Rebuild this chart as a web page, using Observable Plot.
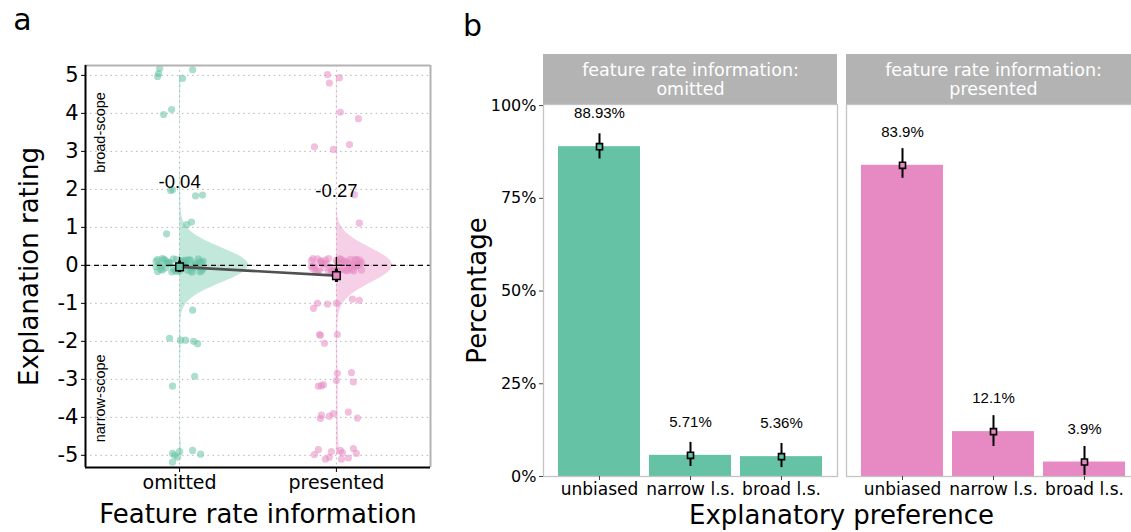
<!DOCTYPE html>
<html><head><meta charset="utf-8">
<script src="https://cdn.jsdelivr.net/npm/d3@7"></script>
<script src="https://cdn.jsdelivr.net/npm/@observablehq/plot@0.6"></script>
<style>
html,body{margin:0;padding:0;background:#fff;overflow:hidden;width:1131px;height:532px;}
#root{position:relative;width:1131px;height:532px;overflow:hidden;}
#root svg{position:absolute;top:0;}
</style></head><body><div id="root"></div>
<script>
// ---------- panel a data ----------
const groups = ["omitted", "presented"];
const groupColors = ["#66c2a5", "#e78ac3"];
const ratingTicks = [-5, -4, -3, -2, -1, 0, 1, 2, 3, 4, 5];
const ratingValues = [-5, -4, -3, -2, -1, 0, 1, 2, 3, 4, 5];
const omittedCounts = [7, 0, 2, 5, 1, 251, 3, 4, 0, 2, 5];
const presentedCounts = [11, 6, 7, 4, 6, 237, 1, 1, 3, 2, 3];

const omittedPointY = [4.97,5.18,5.05,4.92,5.15,3.97,4.10,1.97,1.99,1.83,1.85,0.83,1.07,1.14,-1.18,-1.92,-1.97,-1.97,-2.00,-2.06,-2.92,-3.18,-4.95,-5.05,-4.90,-4.87,-4.97,-5.18,-5.00];
const omittedPointDx = [-0.14,-0.127,-0.134,0.019,0.083,-0.102,-0.051,-0.057,-0.045,0.102,0.146,-0.083,0.045,0.076,0.083,-0.064,0.006,0.038,0.089,0.115,0.096,-0.045,-0.045,-0.013,0.0,0.083,0.134,-0.045,-0.032];
const omittedZeroDx = [-0.14,-0.11,-0.07,-0.02,0.03,0.08,0.12,0.15,-0.13,-0.09,-0.05,0.01,0.05,0.10,0.14,-0.15,-0.10,-0.04,0.02,0.07,0.11,0.13,-0.12,-0.08,-0.03,0.04,0.09,0.15,-0.14,-0.06,-0.01,0.06,0.12,-0.11,-0.07,0.00,0.03,0.08,0.14,-0.15,-0.09,-0.04,0.05,0.10,0.13,-0.12,-0.02,0.07];
const omittedZeroY = [0.15,-0.12,0.08,-0.16,0.04,-0.05,0.17,-0.09,0.02,0.13,-0.17,0.10,-0.02,0.06,-0.14,-0.04,0.16,-0.08,0.12,-0.15,0.01,0.09,-0.10,0.05,-0.13,0.14,-0.06,0.11,-0.16,0.07,-0.11,0.15,-0.03,0.18,0.03,-0.15,0.12,-0.18,0.08,0.11,-0.07,0.17,-0.12,0.00,-0.17,-0.01,0.16,0.13];

const presentedPointY = [5.02,4.80,4.94,4.03,3.86,3.12,3.05,3.18,1.86,1.11,-1.00,-1.13,-1.02,-1.00,-0.89,-0.92,-1.82,-1.84,-1.82,-2.05,-2.84,-2.82,-3.03,-3.07,-3.18,-3.17,-3.14,-3.94,-4.03,-3.97,-3.90,-3.86,-4.02,-4.85,-4.98,-5.10,-5.05,-4.90,-4.87,-5.10,-4.93,-5.07,-4.82,-4.95];
const presentedPointDx = [-0.057,-0.045,0.019,0.025,0.14,-0.14,-0.019,0.083,0.115,0.146,-0.121,-0.146,-0.057,0.0,0.102,0.146,-0.108,-0.102,0.006,-0.076,0.006,0.096,0.0,0.108,-0.115,-0.096,-0.083,-0.096,-0.102,-0.045,-0.019,0.076,0.134,-0.115,-0.14,-0.07,-0.045,-0.032,0.025,0.032,0.038,0.076,0.108,0.127];
const presentedZeroDx = [-0.16,-0.12,-0.08,-0.03,0.02,0.06,0.11,0.15,-0.14,-0.10,-0.05,0.00,0.04,0.09,0.13,0.16,-0.15,-0.11,-0.06,-0.01,0.05,0.08,0.12,-0.13,-0.09,-0.04,0.03,0.07,0.14,-0.16,-0.07,-0.02,0.01,0.10,0.15,-0.12,-0.08,0.02,0.06,0.11,-0.14,-0.10,-0.03,0.04,0.09,0.13,-0.15,-0.05,0.00,0.08,0.12,0.16];
const presentedZeroY = [0.12,-0.16,0.05,-0.08,0.17,-0.13,0.02,0.14,-0.05,0.09,-0.17,0.13,-0.10,0.16,-0.02,0.07,0.18,-0.12,0.03,-0.15,0.11,-0.07,0.15,-0.18,0.06,-0.09,0.16,-0.14,0.01,-0.03,0.14,-0.16,0.08,-0.11,0.04,0.17,-0.06,-0.13,0.10,-0.15,0.00,0.12,-0.18,0.07,-0.04,0.15,-0.09,0.18,-0.14,0.05,-0.01,-0.12];

const ratingMeans = [-0.04, -0.27];
const ratingMeanLo = [-0.19, -0.45];
const ratingMeanHi = [0.11, -0.10];
const ratingMedian = [0, 0];
const ratingMedianLo = [-0.18, -0.13];
const ratingMedianHi = [0.21, 0.21];
const ratingMeanLabels = ["-0.04", "-0.27"];

// ---------- panel b data ----------
const preferences = ["unbiased", "narrow l.s.", "broad l.s."];
const omittedPct = [88.93, 5.71, 5.36];
const omittedPctLo = [85.6, 2.7, 2.4];
const omittedPctHi = [92.4, 9.2, 8.9];
const omittedPctLabels = ["88.93%", "5.71%", "5.36%"];
const presentedPct = [83.9, 12.1, 3.9];
const presentedPctLo = [80.4, 8.1, 0.3];
const presentedPctHi = [88.4, 16.4, 8.1];
const presentedPctLabels = ["83.9%", "12.1%", "3.9%"];
const pctTicks = [0, 25, 50, 75, 100];

// ---------- build tables ----------
const MAIN = '"DejaVu Sans", sans-serif';
const NUM = '"Liberation Sans", Arial, sans-serif';

const points = [];
function addPts(gi, ys, dxs) { ys.forEach((y, i) => points.push({g: groups[gi], x: gi + 1 + dxs[i], y})); }
addPts(0, omittedPointY, omittedPointDx);
addPts(0, omittedZeroY, omittedZeroDx);
addPts(1, presentedPointY, presentedPointDx);
addPts(1, presentedZeroY, presentedZeroDx);

const bw = 0.46;
function violin(counts, gi, maxHalf) {
  const grid = d3.range(-5, 5.0001, 0.05);
  const dens = grid.map(y => d3.sum(ratingValues, (r, i) => counts[i] * Math.exp(-0.5 * ((y - r) / bw) ** 2)));
  const m = d3.max(dens);
  return grid.map((y, j) => ({g: groups[gi], y, x1: gi + 1, x2: gi + 1 + dens[j] / m * maxHalf}));
}
const violins = [...violin(omittedCounts, 0, 0.44), ...violin(presentedCounts, 1, 0.357)];

const means = groups.map((g, i) => ({g, x: i + 1, mean: ratingMeans[i], lo: ratingMeanLo[i], hi: ratingMeanHi[i],
  med: ratingMedian[i], mlo: ratingMedianLo[i], mhi: ratingMedianHi[i], label: ratingMeanLabels[i]}));

const xDomA = [0.4, 2.6], yDomA = [-5.32, 5.26];
const panelA = Plot.plot({
  width: 440, height: 532, marginLeft: 85, marginRight: 10, marginTop: 65, marginBottom: 65,
  x: {domain: xDomA, label: null},
  y: {domain: yDomA, label: null},
  color: {domain: groups, range: groupColors},
  style: {fontFamily: MAIN, background: "transparent", overflow: "visible", maxWidth: "none"},
  marks: [
    Plot.gridY(ratingTicks, {stroke: "#b5b5b5", strokeOpacity: 1, strokeDasharray: "1.5,3.6"}),
    Plot.gridX([1, 2], {stroke: "#b5b5b5", strokeOpacity: 1, strokeDasharray: "1.5,3.6"}),
    Plot.areaX(violins, {x1: "x1", x2: "x2", y: "y", z: "g", fill: "g", fillOpacity: 0.4}),
    Plot.dot(points, {x: "x", y: "y", r: 3.6, fill: "g", fillOpacity: 0.55}),
    Plot.ruleY([0], {stroke: "black", strokeWidth: 1.3, strokeDasharray: "5,4"}),
    Plot.line(means, {x: "x", y: "mean", stroke: "#505050", strokeWidth: 2.6}),
    Plot.ruleX(means, {x: "x", y1: "mlo", y2: "mhi", stroke: "black", strokeWidth: 1.3}),
    Plot.ruleY(means, {y: "med", x1: d => d.x - 0.055, x2: d => d.x + 0.055, stroke: "black", strokeWidth: 1.3}),
    Plot.ruleX(means, {x: "x", y1: "lo", y2: "hi", stroke: "black", strokeWidth: 3}),
    Plot.dot(means, {x: "x", y: "mean", symbol: "square", r: 4.3, fill: "g", stroke: "black", strokeWidth: 1.4}),
    Plot.text(means, {x: "x", y: "mean", text: "label", dy: -85, fontSize: 18.5, fontFamily: NUM, fill: "black"}),
    Plot.text(["broad-scope"], {y: [3.5], text: d => d, frameAnchor: "left", textAnchor: "middle", lineAnchor: "middle", dx: 15, rotate: -90, fontSize: 14.5, fontFamily: NUM, fill: "black"}),
    Plot.text(["narrow-scope"], {y: [-3.5], text: d => d, frameAnchor: "left", textAnchor: "middle", lineAnchor: "middle", dx: 15, rotate: -90, fontSize: 14.5, fontFamily: NUM, fill: "black"}),
    Plot.ruleY([yDomA[1]], {stroke: "#b3b3b3", strokeWidth: 2}),
    Plot.ruleX([xDomA[1]], {stroke: "#b3b3b3", strokeWidth: 2}),
    Plot.ruleX([xDomA[0]], {stroke: "black", strokeWidth: 2}),
    Plot.ruleY([yDomA[0]], {stroke: "black", strokeWidth: 2}),
    Plot.axisY(ratingTicks, {tickSize: 4, tickPadding: 3, fontSize: 21, tickFormat: d => String(d), stroke: "black", fill: "black"}),
    Plot.axisX([1, 2], {tickSize: 5, tickPadding: 3, fontSize: 19, tickFormat: d => groups[d - 1], stroke: "black", fill: "black"}),
    Plot.text(["Explanation rating"], {text: d => d, frameAnchor: "left", textAnchor: "middle", lineAnchor: "middle", dx: -56, rotate: -90, fontSize: 26, fill: "black"}),
    Plot.text(["Feature rate information"], {text: d => d, frameAnchor: "bottom", textAnchor: "middle", lineAnchor: "middle", dy: 47, fontSize: 26, fill: "black"}),
    Plot.text(["a"], {text: d => d, frameAnchor: "top-left", textAnchor: "middle", lineAnchor: "middle", dx: -63, dy: -45, fontSize: 30, fill: "black"})
  ]
});
panelA.style.left = "0px";

// ---------- panel b ----------
const bars = [];
preferences.forEach((p, i) => bars.push({fx: "omitted", x: p, y: omittedPct[i], lo: omittedPctLo[i], hi: omittedPctHi[i], label: omittedPctLabels[i]}));
preferences.forEach((p, i) => bars.push({fx: "presented", x: p, y: presentedPct[i], lo: presentedPctLo[i], hi: presentedPctHi[i], label: presentedPctLabels[i]}));
const strips = groups.map(g => ({fx: g, text: "feature rate information:\n" + g}));
const yTopB = 100.3;
const yStripTop = 113.78;

const panelB = Plot.plot({
  width: 680, height: 532, marginLeft: 83, marginRight: 0, marginTop: 104, marginBottom: 56,
  fx: {domain: groups, paddingInner: 9 / 303, paddingOuter: 0, axis: null, label: null},
  x: {domain: preferences, paddingInner: 0.1, paddingOuter: 0.15, label: null},
  y: {domain: [0, yTopB], label: null},
  color: {domain: groups, range: groupColors},
  style: {fontFamily: MAIN, background: "transparent", overflow: "visible", maxWidth: "none"},
  marks: [
    Plot.rect(strips, {fx: "fx", y1: yTopB, y2: yStripTop, fill: "#b3b3b3"}),
    Plot.text(strips, {fx: "fx", text: "text", frameAnchor: "top", textAnchor: "middle", lineAnchor: "middle", dy: -25, fill: "white", fontSize: 17.5, lineHeight: 1.08}),
    Plot.barY(bars, {fx: "fx", x: "x", y: "y", fill: "fx"}),
    Plot.frame({stroke: "#c4c4c4", strokeWidth: 1.3}),
    Plot.ruleX(bars, {fx: "fx", x: "x", y1: "lo", y2: "hi", stroke: "black", strokeWidth: 2}),
    Plot.dot(bars, {fx: "fx", x: "x", y: "y", symbol: "square", r: 3.4, fill: "fx", stroke: "black", strokeWidth: 1.6}),
    Plot.text(bars, {fx: "fx", x: "x", y: "y", text: "label", dy: -33, fontSize: 15, fontFamily: NUM, fill: "black"}),
    Plot.axisY(pctTicks, {tickSize: 4, tickPadding: 3, fontSize: 16, tickFormat: d => d + "%", stroke: "#444", fill: "black"}),
    Plot.axisX({tickSize: 4, tickPadding: 2, fontSize: 17, stroke: "#444", fill: "black"}),
    Plot.text([{fx: "omitted"}], {fx: "fx", text: () => "Percentage", frameAnchor: "left", textAnchor: "middle", lineAnchor: "middle", dx: -66, rotate: -90, fontSize: 26, fill: "black"}),
    Plot.text([{fx: "omitted"}], {fx: "fx", text: () => "Explanatory preference", frameAnchor: "bottom-right", textAnchor: "middle", lineAnchor: "middle", dx: 4, dy: 39, fontSize: 26, fill: "black"}),
    Plot.text([{fx: "omitted"}], {fx: "fx", text: () => "b", frameAnchor: "top-left", textAnchor: "middle", lineAnchor: "middle", dx: -71, dy: -78, fontSize: 30, fill: "black"})
  ]
});
panelB.style.left = "460px";

const root = document.getElementById("root");
root.appendChild(panelA);
root.appendChild(panelB);
</script></body></html>
